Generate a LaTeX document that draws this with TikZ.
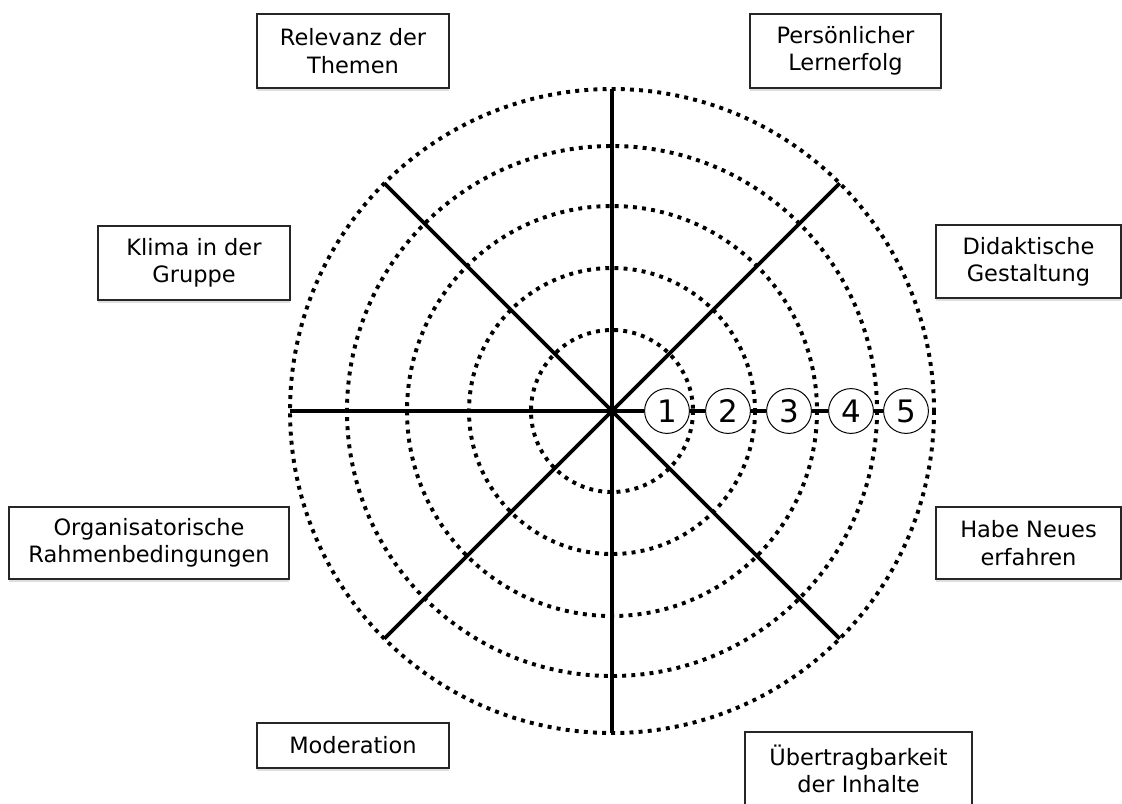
\documentclass[tikz,border=0pt]{standalone}
\usepackage{fontspec}
\setmainfont{DejaVu Sans}
\usepackage{tikz}
\usetikzlibrary{shadows}

\tikzset{
  ring/.style={line width=2.8pt, dash pattern=on 2.8pt off 3.7pt},
  spoke/.style={line width=2.7pt},
  scalenum/.style={circle, draw, line width=0.7pt, fill=white, inner sep=0pt,
    minimum size=1.12cm, font=\fontsize{22}{24}\selectfont},
  topic/.style={rectangle, draw=black!85, line width=1pt, fill=white, align=center,
    minimum width=4.8cm, minimum height=1.85cm, inner sep=2pt,
    font=\fontsize{16}{19.5}\selectfont,
    drop shadow={opacity=0.25, shadow xshift=0pt, shadow yshift=-2pt}}
}

\begin{document}
\begin{tikzpicture}[x=0.025cm, y=-0.025cm]

\useasboundingbox (0,0) rectangle (1122,803);

% Center
\coordinate (c) at (612,411);

% Dotted rings
\foreach \r in {81,143,205,265,322} {
  \draw[ring] (c) circle[radius=\r];
}

% Spokes
\foreach \a in {45,90,135,180,225,270,315} {
  \coordinate (tip\a) at ([shift={(\a:322)}]c);
  \draw[spoke] (c) -- (tip\a);
}

% Scale 1 to 5
\node[scalenum] at (667,411) (n1) {1};
\node[scalenum] at (728,411) (n2) {2};
\node[scalenum] at (789,411) (n3) {3};
\node[scalenum] at (851,411) (n4) {4};
\node[scalenum] at (906,411) (n5) {5};

\draw[spoke] (c) -- (n1);
\draw[spoke] (n1) -- (n2);
\draw[spoke] (n2) -- (n3);
\draw[spoke] (n3) -- (n4);
\draw[spoke] (n4) -- (n5);

% Topics
\node[topic] at (353,51) (relevanz) {Relevanz der\\Themen};
\node[topic, minimum width=4.775cm] at (845.5,51) (lernerfolg) {Persönlicher\\Lernerfolg};
\node[topic] at (194,263) (klima) {Klima in der\\Gruppe};
\node[topic, minimum width=4.625cm, minimum height=1.825cm] at (1028.5,261.5) (didaktik) {Didaktische\\Gestaltung};
\node[topic, minimum width=7cm, minimum height=1.8cm] at (149,543) (orga) {Organisatorische\\Rahmenbedingungen};
\node[topic, minimum width=4.625cm, minimum height=1.8cm] at (1028.5,543) (neues) {Habe Neues\\erfahren};
\node[topic, minimum height=1.125cm] at (353,745.5) (moderation) {Moderation};
\node[topic, minimum width=5.675cm] at (858.5,769) (transfer) {Übertragbarkeit\\der Inhalte};

\end{tikzpicture}
\end{document}
